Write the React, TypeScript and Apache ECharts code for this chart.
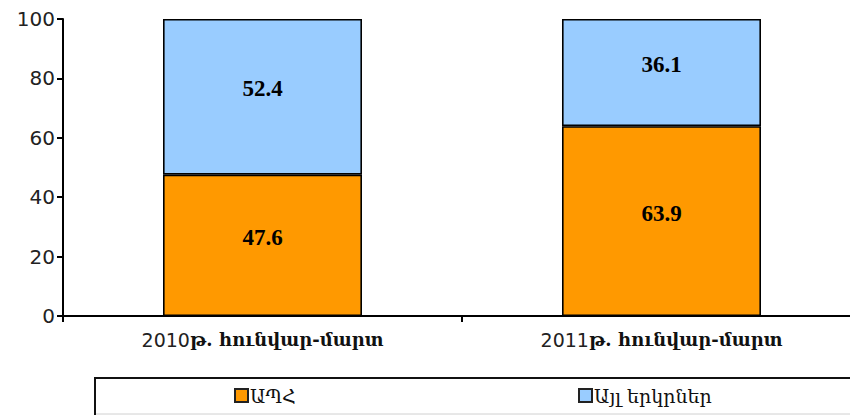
import React, { useEffect, useRef } from "react";
import * as echarts from "echarts";

const categories = ["2010թ. հունվար-մարտ", "2011թ. հունվար-մարտ"];
const seriesNames = ["ԱՊՀ", "Այլ երկրներ"];
const cisValues = [47.6, 63.9];
const otherValues = [52.4, 36.1];
const yTicks = { min: 0, max: 100, interval: 20 };

export default function App() {
  const ref = useRef<HTMLDivElement>(null);
  useEffect(() => {
    if (!ref.current) return;
    const chart = echarts.init(ref.current, null, { renderer: "svg" });
    const labelStyle = {
      show: true,
      position: "inside",
      offset: [0, -8],
      color: "#000",
      fontFamily: "'Liberation Serif', 'DejaVu Serif'",
      fontWeight: "bold",
      fontSize: 23,
      formatter: (p: any) => p.value.toFixed(1),
    };
    const legendCommon = {
      top: 386,
      padding: 0,
      itemWidth: 13,
      itemHeight: 13,
      itemGap: 5,
      icon: "rect",
      textStyle: {
        fontFamily: "'DejaVu Serif'",
        fontSize: 19,
        color: "#111",
        padding: [0, 0, 0, -3],
      },
      itemStyle: { borderColor: "#222", borderWidth: 2 },
    };
    chart.setOption({
      animation: false,
      grid: { left: 63, top: 19, bottom: 99, right: -11, containLabel: false, outerBoundsMode: "none" },
      xAxis: {
        type: "category",
        data: categories,
        axisLine: { lineStyle: { color: "#000", width: 2 } },
        axisTick: { show: true, length: 6, lineStyle: { color: "#000", width: 2 } },
        axisLabel: {
          margin: 14,
          formatter: (v: string) => `{a|${v.slice(0, 4)}}{b|${v.slice(4)}}`,
          rich: {
            a: { fontFamily: "'DejaVu Sans'", fontSize: 19, color: "#222" },
            b: {
              fontFamily: "'DejaVu Serif'",
              fontSize: 18,
              fontWeight: "bold",
              color: "#111",
            },
          },
        },
      },
      yAxis: {
        type: "value",
        min: yTicks.min,
        max: yTicks.max,
        interval: yTicks.interval,
        splitLine: { show: false },
        axisLine: { show: true, lineStyle: { color: "#000", width: 2 } },
        axisTick: { show: true, length: 6, lineStyle: { color: "#000", width: 2 } },
        axisLabel: {
          margin: 8,
          fontFamily: "'DejaVu Sans'",
          fontSize: 20,
          color: "#222",
        },
      },
      legend: [
        { ...legendCommon, left: 234, data: [seriesNames[0]] },
        { ...legendCommon, left: 578, data: [seriesNames[1]] },
      ],
      graphic: [
        {
          type: "rect",
          shape: { x: 95, y: 378, width: 800, height: 80 },
          style: { fill: "none", stroke: "#111", lineWidth: 2 },
          z: 0,
        },
        {
          type: "line",
          shape: { x1: 96, y1: 414, x2: 850, y2: 414 },
          style: { stroke: "#d0d0d0", lineWidth: 1 },
        },
      ],
      series: [
        {
          name: seriesNames[0],
          type: "bar",
          stack: "total",
          data: cisValues,
          barWidth: 199,
          itemStyle: { color: "#FF9900", borderColor: "#000", borderWidth: 1.6 },
          label: labelStyle,
        },
        {
          name: seriesNames[1],
          type: "bar",
          stack: "total",
          data: otherValues,
          barWidth: 199,
          itemStyle: { color: "#99CCFF", borderColor: "#000", borderWidth: 1.6 },
          label: labelStyle,
        },
      ],
    });
    return () => chart.dispose();
  }, []);
  return (
    <div
      ref={ref}
      style={{ position: "absolute", left: 0, top: 0, width: 850, height: 415, background: "#fff" }}
    />
  );
}
